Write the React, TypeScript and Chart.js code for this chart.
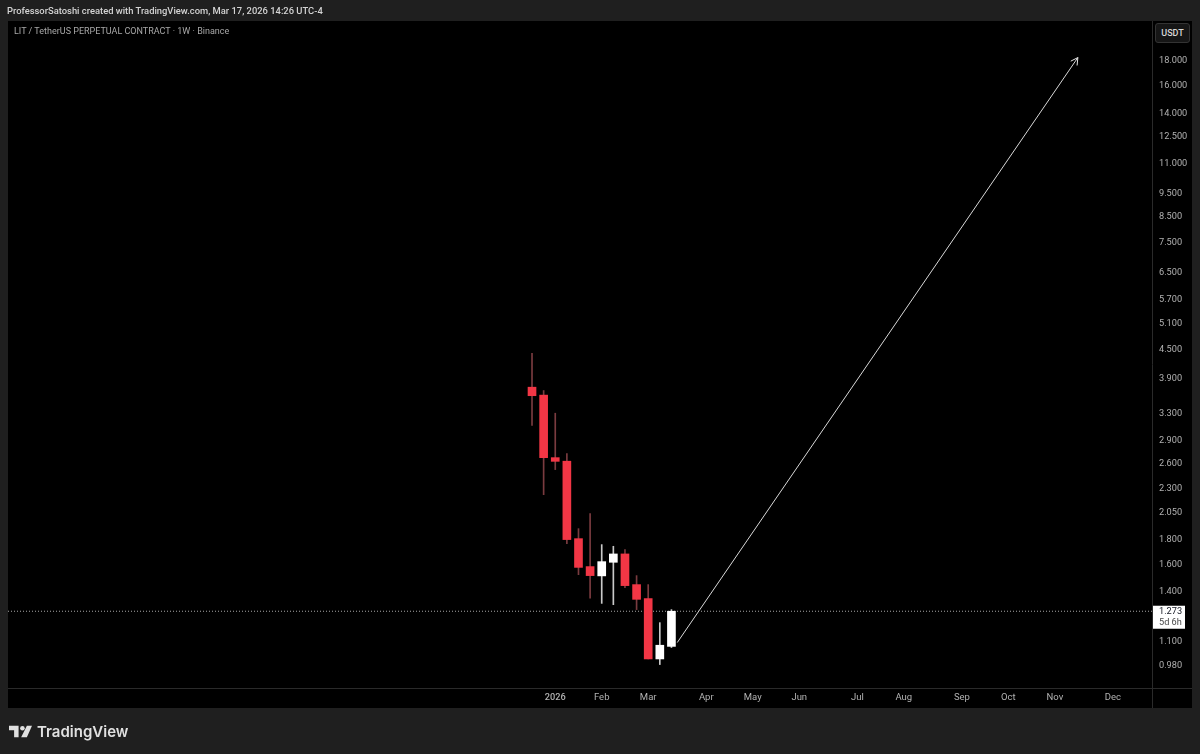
import { useEffect, useRef } from "react";
import { Chart, registerables } from "chart.js";

Chart.register(...registerables);

// weekly candles, x is the week index (0 = first candle)
const opens = [3.74, 3.6, 2.665, 2.62, 1.805, 1.578, 1.509, 1.611, 1.677, 1.447, 1.353, 1.012, 1.075];
const closes = [3.59, 2.665, 2.618, 1.797, 1.572, 1.511, 1.616, 1.677, 1.44, 1.348, 1.012, 1.081, 1.273];
const highs = [4.4, 3.68, 3.3, 2.717, 1.894, 2.036, 1.754, 1.74, 1.712, 1.511, 1.447, 1.205, 1.283];
const lows = [3.11, 2.23, 2.516, 1.762, 1.518, 1.355, 1.322, 1.314, 1.426, 1.283, 1.012, 0.985, 1.069];

const priceTicks = [18, 16, 14, 12.5, 11, 9.5, 8.5, 7.5, 6.5, 5.7, 5.1, 4.5, 3.9, 3.3, 2.9, 2.6, 2.3, 2.05, 1.8, 1.6, 1.4, 1.1, 0.98];
const monthLabels = ["2026", "Feb", "Mar", "Apr", "May", "Jun", "Jul", "Aug", "Sep", "Oct", "Nov", "Dec"];
const monthWeeks = [2, 6, 10, 15, 19, 23, 28, 32, 37, 41, 45, 50];

const arrowFrom = { x: 12.5, y: 1.095 };
const arrowTo = { x: 46.98, y: 18.26 };
const lastPrice = 1.273;
const X_MIN = -45.1;
const X_MAX = 53.36;
const Y_MIN = 0.88;
const Y_MAX = 21.77;

const RED = "#f23645";
const WHITE = "#ffffff";
const FONT = "Roboto, 'Noto Sans', sans-serif";

const candleColor = (i: number) => (closes[i] >= opens[i] ? WHITE : RED);
const wickColor = (i: number) => (closes[i] >= opens[i] ? "#c8c8c8" : "#7a3b3f");

// arrow head + last price tag + panel dividers
const overlay = {
    id: "overlay",
    afterDatasetsDraw(chart: Chart) {
        const { ctx, scales, chartArea } = chart;
        const x = scales.x;
        const y = scales.y;
        const x1 = x.getPixelForValue(arrowFrom.x);
        const y1 = y.getPixelForValue(arrowFrom.y);
        const x2 = x.getPixelForValue(arrowTo.x);
        const y2 = y.getPixelForValue(arrowTo.y);
        const a = Math.atan2(y2 - y1, x2 - x1);
        ctx.save();
        ctx.strokeStyle = "#e6e6e6";
        ctx.lineWidth = 1;
        ctx.beginPath();
        ctx.moveTo(x2 - 8 * Math.cos(a - 0.5), y2 - 8 * Math.sin(a - 0.5));
        ctx.lineTo(x2, y2);
        ctx.lineTo(x2 - 8 * Math.cos(a + 0.5), y2 - 8 * Math.sin(a + 0.5));
        ctx.stroke();

        ctx.strokeStyle = "#2a2a2a";
        ctx.beginPath();
        ctx.moveTo(chartArea.right + 0.5, chartArea.top);
        ctx.lineTo(chartArea.right + 0.5, 708);
        ctx.moveTo(8, chartArea.bottom + 0.5);
        ctx.lineTo(1192, chartArea.bottom + 0.5);
        ctx.stroke();

        const py = y.getPixelForValue(lastPrice);
        ctx.fillStyle = "#ffffff";
        ctx.fillRect(chartArea.right + 1, py - 5.5, 32, 23);
        ctx.textAlign = "left";
        ctx.textBaseline = "middle";
        ctx.font = `9.2px ${FONT}`;
        ctx.fillStyle = "#131722";
        ctx.fillText(lastPrice.toFixed(3), chartArea.right + 7, py + 0.5);
        ctx.fillStyle = "#4a4a4a";
        ctx.fillText("5d 6h", chartArea.right + 7, py + 11.5);
        ctx.restore();
    },
};

export default function App() {
    const canvasRef = useRef<HTMLCanvasElement>(null);

    useEffect(() => {
        if (!canvasRef.current) return;
        document.body.style.margin = "0";
        document.body.style.background = "#1f1f1f";

        const chart = new Chart(canvasRef.current, {
            type: "bar",
            data: {
                datasets: [
                    {
                        label: "last price",
                        type: "line",
                        data: [
                            { x: X_MIN, y: lastPrice },
                            { x: X_MAX, y: lastPrice },
                        ],
                        borderColor: "#a8a8a8",
                        borderWidth: 1,
                        borderDash: [1, 2],
                        pointRadius: 0,
                        order: 4,
                    },
                    {
                        label: "wicks",
                        data: highs.map((h, i) => ({ x: i, y: [lows[i], h] })),
                        backgroundColor: highs.map((_, i) => wickColor(i)),
                        barThickness: 1,
                        order: 3,
                    },
                    {
                        label: "bodies",
                        data: opens.map((o, i) => ({ x: i, y: [o, closes[i]] })),
                        backgroundColor: opens.map((_, i) => candleColor(i)),
                        barThickness: 8,
                        order: 2,
                    },
                    {
                        label: "arrow",
                        type: "line",
                        data: [arrowFrom, arrowTo],
                        borderColor: "#d8d8d8",
                        borderWidth: 1,
                        pointRadius: 0,
                        order: 1,
                    },
                ] as any,
            },
            options: {
                animation: false,
                responsive: false,
                events: [],
                layout: { padding: { left: 8, top: 21, right: 48, bottom: 66 } },
                plugins: { legend: { display: false }, tooltip: { enabled: false } },
                datasets: { bar: { grouped: false } },
                scales: {
                    x: {
                        type: "linear",
                        offset: false,
                        min: X_MIN,
                        max: X_MAX,
                        grid: { display: false },
                        border: { display: false },
                        afterBuildTicks: (axis) => {
                            axis.ticks = monthWeeks.map((value) => ({ value }));
                        },
                        afterFit: (axis) => {
                            axis.height = 0;
                        },
                        ticks: {
                            display: false,
                        },
                    },
                    y: {
                        type: "logarithmic",
                        position: "right",
                        min: Y_MIN,
                        max: Y_MAX,
                        grid: { display: false },
                        border: { display: false },
                        afterBuildTicks: (axis) => {
                            axis.ticks = priceTicks.map((value) => ({ value }));
                        },
                        afterFit: (axis) => {
                            axis.width = 0;
                        },
                        ticks: {
                            display: false,
                        },
                    },
                },
            },
            plugins: [
                overlay,
                {
                    // axis labels, written by hand because the axes sit inside the padding
                    id: "axisLabels",
                    afterDraw(c: Chart) {
                        const { ctx, chartArea, scales } = c;
                        ctx.save();
                        ctx.font = `9.2px ${FONT}`;
                        ctx.fillStyle = "#b2b2b2";
                        ctx.textBaseline = "middle";
                        ctx.textAlign = "left";
                        priceTicks.forEach((p) => {
                            ctx.fillText(p.toFixed(3), chartArea.right + 7, scales.y.getPixelForValue(p) + 0.5);
                        });
                        ctx.textAlign = "center";
                        monthLabels.forEach((m, i) => {
                            ctx.font = m === "2026" ? `500 9.2px ${FONT}` : `9.5px ${FONT}`;
                            ctx.fillText(m, scales.x.getPixelForValue(monthWeeks[i]), chartArea.bottom + 10);
                        });
                        ctx.restore();
                    },
                },
            ],
        });

        return () => {
            chart.destroy();
        };
    }, []);

    return (
        <div style={{ position: "relative", width: 1200, height: 754, background: "#1f1f1f", overflow: "hidden" }}>
            {/* black chart panel behind the transparent canvas */}
            <div style={{ position: "absolute", left: 8, top: 21, width: 1184, height: 687, background: "#000" }} />
            <canvas
                ref={canvasRef}
                width={1200}
                height={754}
                style={{ position: "absolute", left: 0, top: 0 }}
                role="img"
                aria-label="LIT / TetherUS weekly candlestick chart with an arrow projected upward"
            />
            <div style={{ position: "absolute", left: 7, top: 5, color: "#d4d4d4", font: `500 9.4px ${FONT}`, whiteSpace: "nowrap" }}>
                ProfessorSatoshi created with TradingView.com, Mar 17, 2026 14:26 UTC-4
            </div>
            <div style={{ position: "absolute", left: 14, top: 26, color: "#a8a8a8", font: `9px ${FONT}`, whiteSpace: "nowrap" }}>
                LIT / TetherUS PERPETUAL CONTRACT · 1W · Binance
            </div>
            <div
                style={{
                    position: "absolute",
                    left: 1155,
                    top: 23,
                    width: 35,
                    height: 20,
                    boxSizing: "border-box",
                    border: "1px solid #333",
                    borderRadius: 3,
                    background: "#161616",
                    color: "#d8d8d8",
                    font: `500 9px ${FONT}`,
                    lineHeight: "18px",
                    textAlign: "center",
                }}
            >
                USDT
            </div>
            <svg style={{ position: "absolute", left: 9, top: 725 }} width={23} height={13} viewBox="0 0 36 20">
                <path d="M0 1h15v18H8V8H0z M28 1h8l-8 18h-9z" fill="#e0e0e0" />
                <circle cx="21" cy="5" r="3.6" fill="#e0e0e0" />
            </svg>
            <div style={{ position: "absolute", left: 37, top: 722, color: "#e0e0e0", font: `600 15px Inter, ${FONT}`, whiteSpace: "nowrap" }}>
                TradingView
            </div>
        </div>
    );
}
